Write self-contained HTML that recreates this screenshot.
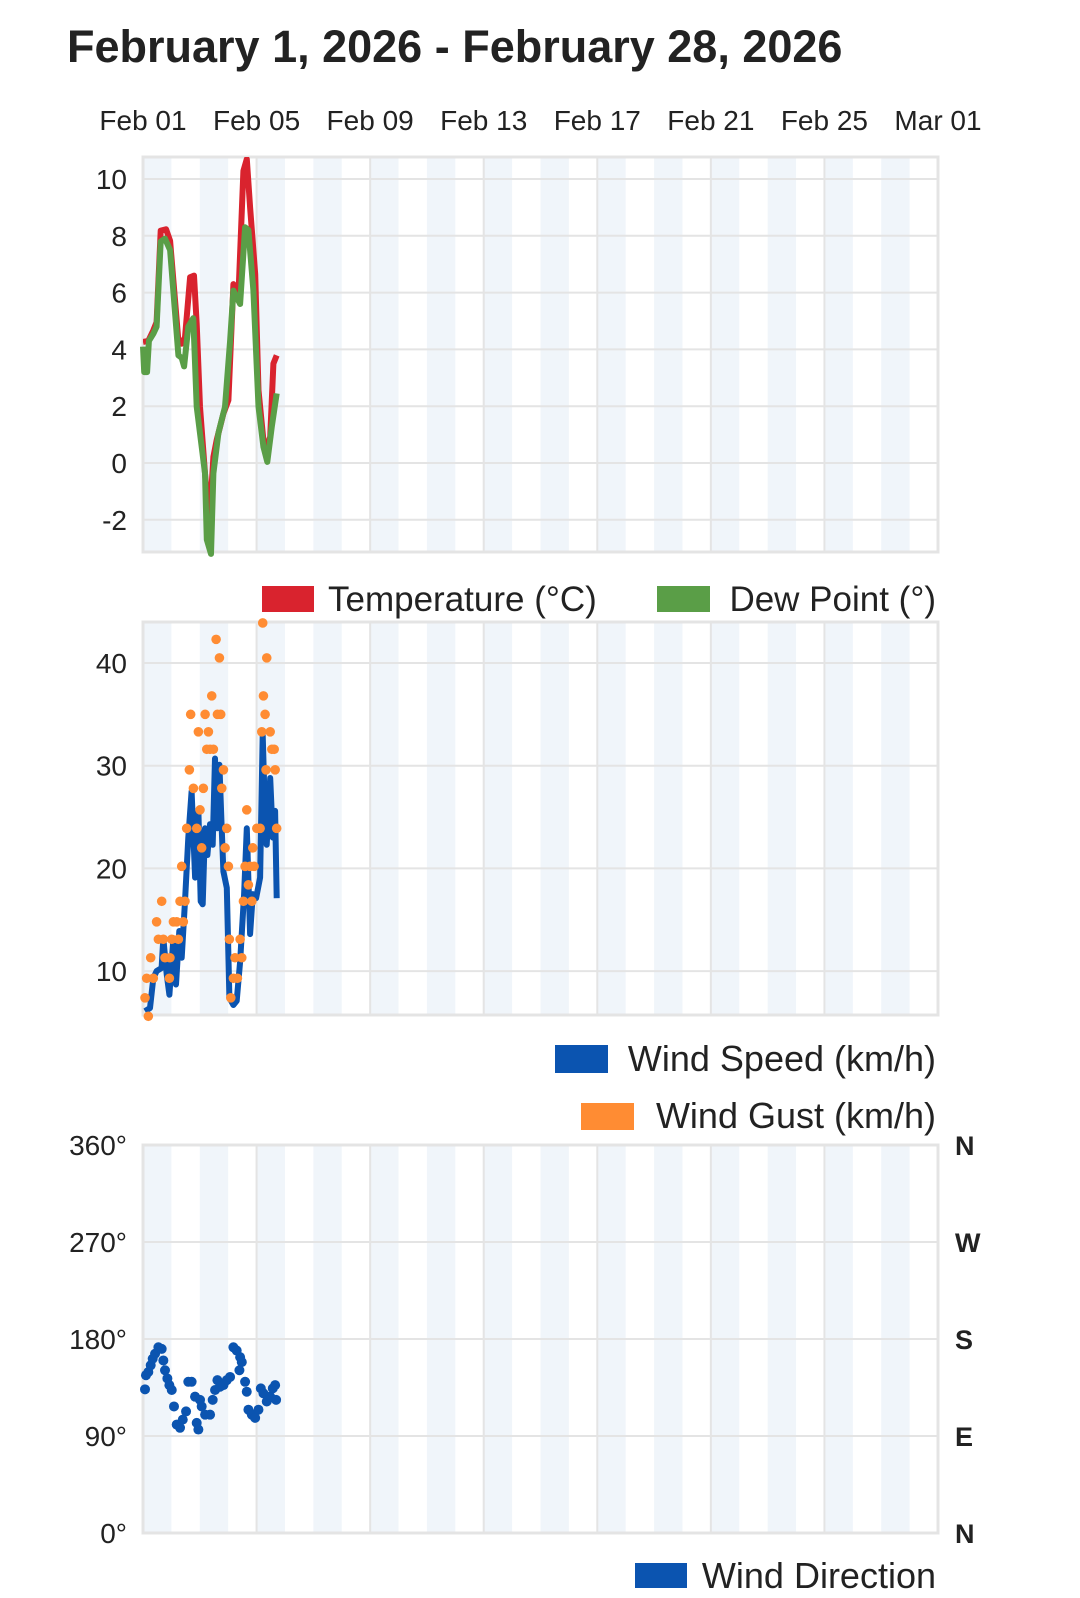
<!DOCTYPE html>
<html><head><meta charset="utf-8"><style>
html,body{margin:0;padding:0;background:#fff;}
body{width:1080px;height:1598px;overflow:hidden;font-family:"Liberation Sans",sans-serif;}
svg{display:block}
</style></head><body>
<svg id="chart" width="1080" height="1598" viewBox="0 0 1080 1598" xmlns="http://www.w3.org/2000/svg" font-family="Liberation Sans, sans-serif">
<text x="67" y="62" font-size="45" font-weight="bold" fill="#222">February 1, 2026 - February 28, 2026</text>
<g id="xlabels"></g>
<g id="temp"></g>
<g id="wind"></g>
<g id="dir"></g>
<g>
<rect x="262" y="586" width="52" height="26" fill="#d9232e"/>
<text x="328" y="611" font-size="35" fill="#222">Temperature (°C)</text>
<rect x="657" y="586" width="53" height="26" fill="#5a9e47"/>
<text x="936" y="611" font-size="35" fill="#222" text-anchor="end">Dew Point (°)</text>
</g>
<g>
<rect x="555" y="1045" width="53" height="28" fill="#0b54b0"/>
<text x="936" y="1071" font-size="36" fill="#222" text-anchor="end">Wind Speed (km/h)</text>
<rect x="581" y="1103" width="53" height="27" fill="#ff8c33"/>
<text x="936" y="1128" font-size="36" fill="#222" text-anchor="end">Wind Gust (km/h)</text>
</g>
<g>
<rect x="635" y="1563" width="52" height="25" fill="#0b54b0"/>
<text x="936" y="1588" font-size="36" fill="#222" text-anchor="end">Wind Direction</text>
</g>
</svg>
<script>
const xTickLabels=["Feb 01","Feb 05","Feb 09","Feb 13","Feb 17","Feb 21","Feb 25","Mar 01"];
const tempHours=[0,4.5,8.7,11.5,15,19.5,22.9,29.9,32.7,35.5,39.8,43.1,45.4,48.2,52.4,56.1,59.5,62.3,68,72.2,76.4,80.7,84.9,87.7,90.5,94.8,97.6,101.8,104.6,107.5,110.2,113];
const tempValues=[4.26,4.3,4.67,4.96,8.18,8.23,7.82,4.3,4.2,4.43,6.54,6.6,4.9,1.98,-0.36,-2.12,0.22,0.81,1.74,2.21,6.3,5.95,10.28,10.7,9.0,6.65,2.56,0.81,0.57,0.92,3.5,3.79];
const dewHours=[0,1,3.5,5,8.7,11.5,15,18.6,22.9,29.9,32.7,34.7,38.3,42.5,45.4,52.4,53.9,57.5,59.5,63.7,69.3,73.6,76.4,82.1,86.3,89.1,93.3,97.6,101.8,105.1,108.9,113];
const dewValues=[4.1,3.2,3.2,4.3,4.55,4.8,7.8,7.9,7.5,3.79,3.7,3.4,4.8,5.1,1.98,-0.36,-2.7,-3.2,-0.36,1.05,1.98,4.3,6.07,5.6,8.3,8.2,6.07,1.98,0.57,0.04,1.28,2.45];
const tempTicks=[-2,0,2,4,6,8,10];
const speedHours=[1.7,5.9,8.7,11.5,15.7,17.2,20,22.3,25.7,27.9,30.7,32.7,35.5,38.3,41.1,44,46.8,48.8,50.5,52.4,54.4,56.6,58.9,60.9,62.9,64.6,66.5,68,70.8,73,76.4,79.2,82.1,85.5,87.7,90.5,92.8,95.6,99,101.2,103.2,104.6,107.5,109.7,111.7,113];
const speedValues=[6.1,6.4,9.3,10,10.3,13.2,9.7,7.7,13.2,8.7,13.9,11.3,16.8,23.0,27.5,19.1,25.6,16.8,16.5,23.9,21.3,24.3,22.3,30.7,23.9,30.1,23.9,19.7,18.1,7.4,6.7,7.1,10.9,17.5,23.9,13.6,17.5,17.1,19.1,33.0,24.9,22.3,28.8,23.0,25.6,17.1];
const gustHours=[1.7,4.5,3.1,6.5,8.7,11.5,13,15.8,17.2,18.6,22.3,22.8,24.3,25.7,28.5,29.9,31.3,32.7,34.1,35.5,36.9,39.2,40.3,42.6,45.4,46.8,48.2,49.6,51,52.5,53.9,55.3,56.7,58.1,59.5,61.8,62.9,64.6,65.7,66.6,68,69.4,70.8,72.2,73,74.2,76.4,77.8,79.8,82.1,83.5,84.9,86.3,87.7,89.1,90.5,92,92.8,93.9,96.2,99,101.2,101.8,103.2,104.6,100.4,104,107.5,108.9,110.9,111.7,113];
const gustValues=[7.4,5.6,9.3,11.3,9.3,14.8,13.1,16.8,13.1,11.3,9.3,11.3,13.1,14.8,14.8,13.1,16.8,20.2,14.8,16.8,23.9,29.6,35.0,27.8,23.9,33.3,25.7,22.0,27.8,35.0,31.6,33.3,31.6,36.8,31.6,42.3,35.0,40.5,35.0,27.8,29.6,22.0,23.9,20.2,13.1,7.4,9.3,11.3,9.3,13.1,11.3,16.8,20.2,25.7,18.4,20.2,16.8,22.0,20.2,23.9,23.9,43.9,36.8,35.0,40.5,33.3,29.6,33.3,31.6,31.6,29.6,23.9];
const windTicks=[10,20,30,40];
const dirHours=[1.7,2.5,4.5,6.5,8.2,10.2,13,15.8,17.2,18.6,20.6,22.3,24.3,26.2,28.5,31.3,33.6,36.4,38.3,41.1,44,45.4,46.8,48.2,49.6,52.5,56.7,58.9,60.9,62.9,65.1,68,70.8,73.6,76.4,79.2,82.1,83.5,81.5,86.3,87.7,89.1,92,94.8,97.6,99.6,101.8,104.6,107.5,109.7,111.7,112.5];
const dirValues=[133.3,146.4,149.4,155.6,161.7,166.3,172.3,170.8,160.1,151,143.4,137.2,132.7,117.4,100.6,97.6,105.2,112.8,140.3,140.3,126.5,102.2,96,123.5,117.4,109.8,109.8,123.5,132.7,141.8,135.7,137.2,141.8,144.8,172.3,169.3,163.2,158.6,151,140.3,131.1,114.4,109.8,106.8,114.4,134.2,129.6,122,126.5,134.2,137.2,123.5];
const dirTicks=[0,90,180,270,360];
const dirCompass=["N","E","S","W","N"];

const NS="http://www.w3.org/2000/svg";
const X0=143,X1=938,DAYS=28;
const xDay=d=>X0+(X1-X0)*d/DAYS;
const xHour=h=>xDay(h/24);
function mk(tag,attrs,parent){const e=document.createElementNS(NS,tag);for(const k in attrs)e.setAttribute(k,attrs[k]);parent.appendChild(e);return e;}

const xl=document.getElementById('xlabels');
xTickLabels.forEach((t,i)=>{
  const e=mk('text',{x:xDay(i*4),y:130,'font-size':28,fill:'#222','text-anchor':'middle'},xl);
  
  
  e.textContent=t;
});

function frame(g,top,bottom){
  for(let d=0;d<DAYS;d+=2){
    const r=mk('rect',{x:xDay(d),y:top,width:xDay(1)-xDay(0),height:bottom-top,fill:'#f0f5fa'},g);
    
    
  }
  for(let d=4;d<DAYS;d+=4){
    const l=mk('line',{x1:xDay(d),x2:xDay(d),y1:top,y2:bottom,stroke:'#e4e4e4','stroke-width':2},g);
    
    
  }
  const b=mk('rect',{x:X0,y:top,width:X1-X0,height:bottom-top,fill:'none',stroke:'#e4e4e4','stroke-width':3},g);
  
  
}
function hgrid(g,ticks,yf,labels,suffix){
  ticks.forEach((t,i)=>{
    const l=mk('line',{x1:X0,x2:X1,y1:yf(t),y2:yf(t),stroke:'#e4e4e4','stroke-width':2},g);
    
    
    const e=mk('text',{x:127,y:yf(t)+10,'font-size':28,fill:'#222','text-anchor':'end'},g);
    
    
    e.textContent=t+(suffix||'');
  });
}
function linePath(hs,vs,yf){return hs.map((h,i)=>(i?'L':'M')+xHour(h).toFixed(1)+','+yf(vs[i]).toFixed(1)).join('');}

const TT=157,TB=552;
const yT=v=>463-(v*28.4);
const gt=document.getElementById('temp');


frame(gt,TT,TB);
hgrid(gt,tempTicks,yT);
const clipT=mk('clipPath',{id:'ct'},gt);mk('rect',{x:X0,y:TT,width:X1-X0,height:TB-TT},clipT);
const tl=mk('path',{d:linePath(tempHours,tempValues,yT),fill:'none',stroke:'#d9232e','stroke-width':6,'stroke-linejoin':'round','clip-path':'url(#ct)'},gt);


const dl=mk('path',{d:linePath(dewHours,dewValues,yT),fill:'none',stroke:'#5a9e47','stroke-width':6,'stroke-linejoin':'round'},gt);



const WT=622,WB=1015;
const yW=v=>663+(40-v)*10.27;
const gw=document.getElementById('wind');


frame(gw,WT,WB);
hgrid(gw,windTicks,yW);
const sl=mk('path',{d:linePath(speedHours,speedValues,yW),fill:'none',stroke:'#0b54b0','stroke-width':6,'stroke-linejoin':'round'},gw);


gustHours.forEach((h,i)=>{
  const c=mk('circle',{cx:xHour(h),cy:yW(gustValues[i]),r:4.8,fill:'#ff8c33'},gw);
  
  
});

const DT=1145,DB=1533;
const yD=v=>DB-(v/360)*(DB-DT);
const gd=document.getElementById('dir');


frame(gd,DT,DB);
hgrid(gd,dirTicks,yD,null,'°');
dirTicks.forEach((t,i)=>{
  const e=mk('text',{x:955,y:yD(t)+10,'font-size':27,fill:'#222','font-weight':'600'},gd);
  
  
  e.textContent=dirCompass[i];
});
dirHours.forEach((h,i)=>{
  const c=mk('circle',{cx:xHour(h),cy:yD(dirValues[i]),r:5,fill:'#0b54b0'},gd);
  
  
});
</script>
</body></html>
